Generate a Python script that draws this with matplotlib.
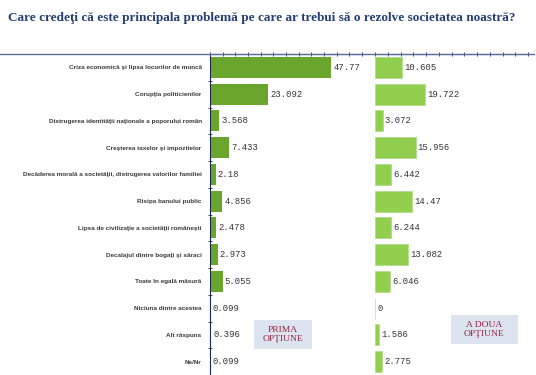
import numpy as np
import matplotlib.pyplot as plt
from matplotlib.patches import Rectangle
from matplotlib.lines import Line2D

# survey answers, top to bottom
categories = [
    'Criza economică şi lipsa locurilor de muncă',
    'Corupţia politicienilor',
    'Distrugerea identităţii naţionale a poporului român',
    'Creşterea taxelor şi impozitelor',
    'Decăderea morală a societăţii, distrugerea valorilor familiei',
    'Risipa banului public',
    'Lipsa de civilizaţie a societăţii româneşti',
    'Decalajul dintre bogaţi şi săraci',
    'Toate în egală măsură',
    'Niciuna dintre acestea',
    'Alt răspuns',
    'Ns/Nr',
]
prima = [47.77, 23.092, 3.568, 7.433, 2.18, 4.856, 2.478, 2.973, 5.055, 0.099, 0.396, 0.099]
prima_labels = ['47.77', '23.092', '3.568', '7.433', '2.18', '4.856', '2.478', '2.973',
                '5.055', '0.099', '0.396', '0.099']
adoua = [10.605, 19.722, 3.072, 15.956, 6.442, 14.47, 6.244, 13.082, 6.046, 0, 1.586, 2.775]
adoua_labels = ['10.605', '19.722', '3.072', '15.956', '6.442', '14.47', '6.244', '13.082',
                '6.046', '0', '1.586', '2.775']

W, H = 536, 375
fig = plt.figure(figsize=(W / 100, H / 100), dpi=100)
fig.patch.set_facecolor('white')

def fx(px):
    return px / W

def fy(py):
    return 1 - py / H

title_color = '#233f75'
axis_color = '#5a6c98'
tick_color = '#1c2a55'
val_font = 'Liberation Mono'

fig.text(fx(8), fy(18), 'Care credeţi că este principala problemă pe care ar trebui să o rezolve societatea noastră?',
         fontsize=9.5, fontweight='bold', family='Liberation Serif', color=title_color,
         ha='left', va='center')

# long horizontal rule under the title
fig.add_artist(Line2D([0, fx(534)], [fy(54), fy(54)], color=axis_color, lw=1.0))

y = np.arange(len(categories))

def setup(ax):
    ax.set_xlim(0, 60)
    ax.set_ylim(len(categories) - 0.5, -0.5)
    ax.xaxis.tick_top()
    ax.set_xticks(np.arange(0, 61, 5))
    ax.tick_params(axis='x', direction='inout', length=3, width=0.6, colors=tick_color,
                   labeltop=False, labelbottom=False)
    for s in ['right', 'bottom']:
        ax.spines[s].set_visible(False)
    ax.spines['top'].set_color(axis_color)
    ax.set_facecolor('none')

ax1 = fig.add_axes([fx(210), 0, fx(152), 1 - 54 / H])
setup(ax1)
ax1.barh(y, prima, height=0.78, color='#6aa52e')
ax1.set_yticks(y)
ax1.set_yticklabels(categories, fontsize=4.6, family='Liberation Sans', fontweight='bold',
                    color='#3a3a3a')
ax1.set_yticks(np.arange(-0.5, len(categories), 1), minor=True)
ax1.tick_params(axis='y', which='major', length=0, pad=6)
ax1.tick_params(axis='y', which='minor', direction='inout', length=3, width=0.6, colors=tick_color)
ax1.spines['left'].set_color(tick_color)
for yi, v, lab in zip(y, prima, prima_labels):
    ax1.annotate(lab, (v, yi), xytext=(1.5, 0), textcoords='offset points', va='center',
                 ha='left', fontsize=6.4, family=val_font, color='#333333')

ax2 = fig.add_axes([fx(375), 0, fx(153), 1 - 54 / H])
setup(ax2)
ax2.spines['left'].set_visible(False)
ax2.set_yticks([])
ax2.barh(y, adoua, height=0.78, color='#92cf4e', edgecolor='#a8d880', linewidth=0.4)
for yi, v, lab in zip(y, adoua, adoua_labels):
    ax2.annotate(lab, (v, yi), xytext=(1.5, 0), textcoords='offset points', va='center',
                 ha='left', fontsize=6.4, family=val_font, color='#333333')

# option boxes
box_color = '#dce4ef'
fig.add_artist(Rectangle((fx(254), fy(349)), fx(58), 29 / H, transform=fig.transFigure,
                         facecolor=box_color, edgecolor='none'))
fig.text(fx(283), fy(334.5), 'PRIMA\nOPŢIUNE', ha='center', va='center', fontsize=6.8,
         family='Liberation Serif', color='#9e2340', linespacing=1.15)
fig.add_artist(Rectangle((fx(451), fy(344)), fx(67), 29 / H, transform=fig.transFigure,
                         facecolor=box_color, edgecolor='none'))
fig.text(fx(484.5), fy(329.5), 'A DOUA\nOPŢIUNE', ha='center', va='center', fontsize=6.8,
         family='Liberation Serif', color='#9e2340', linespacing=1.15)

fig.savefig('out.png', dpi=100)
